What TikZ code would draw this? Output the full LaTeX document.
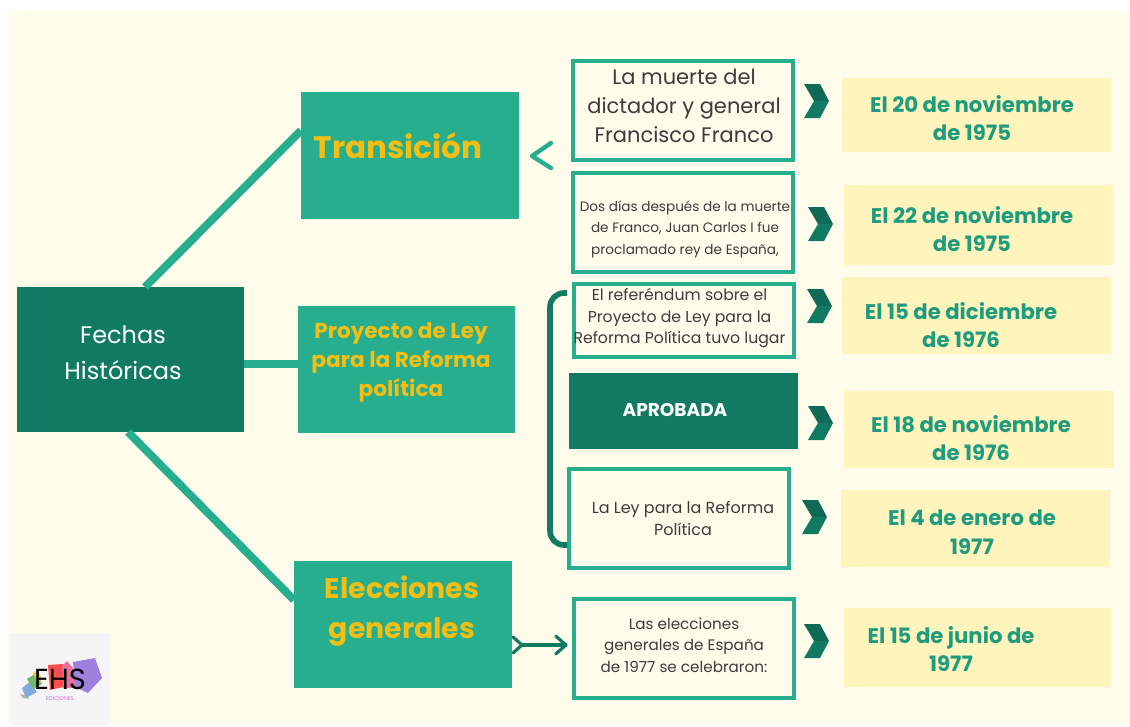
\documentclass[tikz,border=0pt]{standalone}
\usepackage{fontspec}
\setmainfont{Poppins}
\usetikzlibrary{calc}
\definecolor{cream}{HTML}{FFFCEC}
\definecolor{teal}{HTML}{26AE8F}
\definecolor{deep}{HTML}{107A63}
\definecolor{deeper}{HTML}{0F6A56}
\definecolor{butter}{HTML}{FFF4BC}
\definecolor{gold}{HTML}{F4BE12}
\definecolor{ink}{HTML}{3C3C3A}
\definecolor{datecol}{HTML}{1F9C80}
\tikzset{
  solidteal/.style={fill=teal,inner sep=0pt,outer sep=0pt},
  soliddeep/.style={fill=deep,inner sep=0pt,outer sep=0pt},
  framed/.style={draw=teal,line width=3.6pt,fill=cream,inner sep=0pt,outer sep=0pt},
  datebox/.style={fill=butter,inner sep=0pt,outer sep=0pt},
  datetxt/.style={text=datecol,align=center,font=\fontsize{21.2}{28.5}\selectfont\bfseries},
  bodytxt/.style={text=ink,align=center},
  goldtxt/.style={text=gold,align=center},
  link/.style={draw=teal,line width=8pt},
  brace/.style={draw=deep,line width=5.6pt},
  thin arrow/.style={draw=deep,line width=3.2pt,line cap=round,line join=round},
}
\newcommand{\bx}[6]{\node[#2,minimum width={(#5-#3)*1pt},minimum height={(#6-#4)*1pt}] (#1) at ({(#3+#5)/2},{(#4+#6)/2}) {};}
\newcommand{\fbx}[6]{\node[#2,minimum width={(#5-#3-3.6)*1pt},minimum height={(#6-#4-3.6)*1pt}] (#1) at ({(#3+#5)/2},{(#4+#6)/2}) {};}
\newcommand{\chev}[2]{%
  \fill[deeper] (#1,#2) -- ++(16,0) -- ++(9,17) -- ++(-15,0) -- cycle;
  \fill[deep] (#1,#2+34) -- ++(16,0) -- ++(9,-17) -- ++(-15,0) -- cycle;}
\begin{document}
\begin{tikzpicture}[x=1pt,y=-1pt]
\useasboundingbox (0,0) rectangle (1130,726);
\fill[white] (0,0) rectangle (1130,726);
\fill[cream] (8,11) rectangle (1130,724);

% main boxes
\bx{fechas}{soliddeep}{17}{287}{244}{432}
\bx{trans}{solidteal}{301}{92}{519}{219}
\bx{proy}{solidteal}{298}{306}{515}{433}
\bx{elec}{solidteal}{294}{561}{512}{688}

% connectors
\draw[link] ($(fechas.north west)+(128,0)$) -- ($(trans.west)+(0,-25)$);
\draw[link] ($(fechas.east |- proy.west)+(0,-5.5)$) -- ($(proy.west)+(0,-5.5)$);
\draw[link] ($(fechas.south west)+(111,0)$) -- ($(elec.south west)+(0,-88)$);

% framed boxes
\fbx{m1}{framed}{571}{59}{795}{162}
\fbx{m2}{framed}{571}{171}{795}{274}
\fbx{m3}{framed}{572}{282}{796}{359}
\bx{m4}{soliddeep}{569}{373}{798}{449}
\fbx{m5}{framed}{567}{467}{791}{570}
\fbx{m6}{framed}{572}{597}{796}{700}

% date boxes
\bx{d1}{datebox}{842}{78}{1111}{152}
\bx{d2}{datebox}{844}{185}{1113}{265}
\bx{d3}{datebox}{842}{277}{1111}{354}
\bx{d4}{datebox}{844}{391}{1114}{468}
\bx{d5}{datebox}{841}{490}{1110}{567}
\bx{d6}{datebox}{844}{608}{1111}{687}

% labels
\node[text=white,align=center,font=\fontsize{24}{36}\selectfont] (tfechas) at (123,353) {Fechas\\Históricas};
\node[goldtxt,font=\fontsize{31}{40}\selectfont\bfseries] (ttrans) at (398,145.5) {Transición};
\node[goldtxt,font=\fontsize{21.6}{29}\selectfont\bfseries] (tproy) at (401,362.5) {Proyecto de Ley\\para la Reforma\\política};
\node[goldtxt,font=\fontsize{28.3}{40}\selectfont\bfseries] (telec) at (402,611) {Elecciones\\generales};

\node[bodytxt,font=\fontsize{21}{29}\selectfont] (t1) at (684,106) {La muerte del\\dictador y general\\Francisco Franco};
\node[bodytxt,font=\fontsize{13.6}{21.5}\selectfont] (t2) at (685,229) {Dos días después de la muerte\\de Franco, Juan Carlos I fue\\proclamado rey de España,};
\node[bodytxt,font=\fontsize{15.7}{21.5}\selectfont] (t3) at (679.5,318) {El referéndum sobre el\\Proyecto de Ley para la\\Reforma Política tuvo lugar};
\node[text=white,font=\fontsize{18.5}{20}\selectfont\bfseries] (t4) at (675,410) {APROBADA};
\node[bodytxt,font=\fontsize{16}{22}\selectfont] (t5) at (683,518) {La Ley para la Reforma\\Política};
\node[bodytxt,font=\fontsize{15.2}{21.5}\selectfont] (t6) at (684,645) {Las elecciones\\generales de España\\de 1977 se celebraron:};

\node[datetxt] (td1) at (972,118) {El 20 de noviembre\\de 1975};
\node[datetxt] (td2) at (972,229) {El 22 de noviembre\\de 1975};
\node[datetxt] (td3) at (961,325) {El 15 de diciembre\\de 1976};
\node[datetxt] (td4) at (971,438) {El 18 de noviembre\\de 1976};
\node[datetxt] (td5) at (972,532) {El 4 de enero de\\1977};
\node[datetxt] (td6) at (951,649) {El 15 de junio de\\1977};

% chevrons
\chev{804}{84}
\chev{808}{207}
\chev{807}{289}
\chev{808}{406}
\chev{802}{500}
\chev{804}{624}

% small open chevron
\draw[teal,line width=4.4pt,line cap=round,line join=round] (551,143) -- (532,156) -- (551,168);

% bracket
\draw[brace] (567,293) -- (564,293) arc[start angle=270,end angle=180,radius=14] -- (550,531) arc[start angle=180,end angle=90,radius=14] -- (567,545);

% arrow Elecciones -> box
\coordinate (atail) at ($(elec.east)+(10,20.5)$);
\coordinate (ahead) at ($(m6.west)+(-8,-3.5)$);
\draw[thin arrow] (atail) -- (ahead);
\draw[thin arrow] ($(atail)+(-9,-8)$) -- (atail) -- ($(atail)+(-9,8)$);
\draw[thin arrow] ($(ahead)+(-10,-9)$) -- (ahead) -- ($(ahead)+(-10,9)$);

% logo
\fill[white!96!black] (10,633) rectangle (110,726);
\fill[gray!60] (20,694) -- (27,696) -- (29,699) -- (23,698) -- cycle;
\fill[cyan!55!blue!50] (22,688) -- (30,682) -- (37,692) -- (26,698) -- cycle;
\fill[green!50!black!55] (27,679) -- (36,673) -- (42,684) -- (33,689) -- cycle;
\fill[yellow!60!orange!90] (33,673) -- (38,670) -- (42,680) -- (38,682) -- cycle;
\fill[red!70!pink!90] (48,665) -- (63,664) -- (63,687) -- (50,690) -- cycle;
\fill[magenta!60!purple!60] (62,666) -- (67,661) -- (73,668) -- (76,688) -- (63,688) -- cycle;
\fill[violet!50!blue!50] (73,662) -- (95,658) -- (102,678) -- (88,693) -- (75,687) -- cycle;
\node[text=black,font=\fontsize{29}{29}\selectfont] (tehs) at (60,679) {EHS};
\node[text=violet!50!magenta!60,font=\fontsize{5.5}{6}\selectfont] (tedi) at (60,699) {EDICIONES};
\end{tikzpicture}
\end{document}
